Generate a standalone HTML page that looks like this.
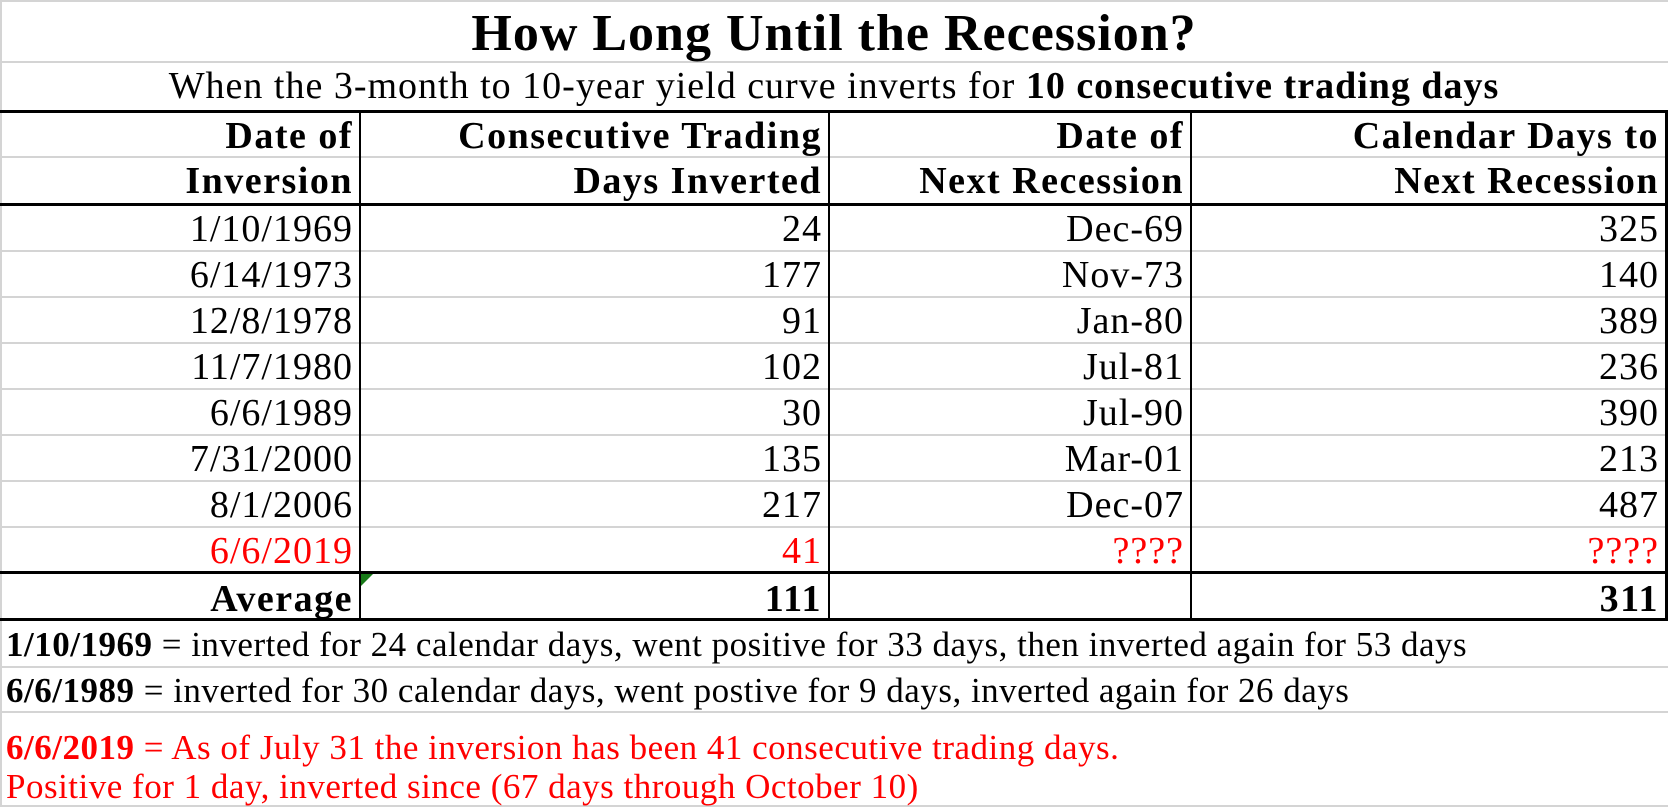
<!DOCTYPE html>
<html><head><meta charset="utf-8"><style>
body{margin:0;width:1668px;height:807px;background:#fff;overflow:hidden;font-family:"Liberation Serif",serif;}
.c{position:absolute;white-space:nowrap;font-size:38px;line-height:1;letter-spacing:1px;}
.h{position:absolute;background:#d4d4d4;height:2px;left:0;width:1668px;}
.k{position:absolute;background:#000;}
b{font-weight:bold;}
.red{color:#f00;}
.n{font-size:35px;letter-spacing:0.5px;}
</style></head><body>
<div>
<div class="h" style="top:0"></div>
<div class="h" style="top:61px"></div>
<div class="h" style="top:156px"></div>
<div class="h" style="top:666px"></div>
<div class="h" style="top:711px"></div>
<div class="h" style="top:805px"></div>
<div class="h" style="top:250px"></div><div class="h" style="top:296px"></div><div class="h" style="top:342px"></div><div class="h" style="top:388px"></div><div class="h" style="top:434px"></div><div class="h" style="top:480px"></div><div class="h" style="top:526px"></div>
<div style="position:absolute;left:0;top:0;width:2px;height:807px;background:#d4d4d4"></div>
<div class="k" style="left:0;top:110px;width:1668px;height:3px"></div>
<div class="k" style="left:0;top:203px;width:1668px;height:3px"></div>
<div class="k" style="left:0;top:571px;width:1668px;height:3px"></div>
<div class="k" style="left:0;top:618px;width:1668px;height:3px"></div>
<div class="k" style="left:1665px;top:110px;width:3px;height:511px"></div>
<div class="k" style="left:359px;top:110px;width:2px;height:511px"></div>
<div class="k" style="left:828px;top:110px;width:2px;height:511px"></div>
<div class="k" style="left:1190px;top:110px;width:2px;height:511px"></div>
<div style="position:absolute;left:361px;top:574px;width:0;height:0;border-top:12px solid #187a18;border-right:12px solid transparent"></div>

<div class="c" style="left:0;width:1668px;text-align:center;top:8px;font-size:52px;font-weight:bold">How Long Until the Recession?</div>
<div class="c" style="left:0;width:1668px;text-align:center;top:67px">When the 3-month to 10-year yield curve inverts for <b>10 consecutive trading days</b></div>

<div class="c n" style="left:6px;top:627px"><b>1/10/1969</b> = inverted for 24 calendar days, went positive for 33 days, then inverted again for 53 days</div>
<div class="c n" style="left:6px;top:673px"><b>6/6/1989</b> = inverted for 30 calendar days, went postive for 9 days, inverted again for 26 days</div>
<div class="c n red" style="left:6px;top:730px"><b>6/6/2019</b> = As of July 31 the inversion has been 41 consecutive trading days.</div>
<div class="c n red" style="left:6px;top:769px">Positive for 1 day, inverted since (67 days through October 10)</div>
</div>
<script>
const colRight=[353,822,1184,1659];
const headers=[["Date of","Inversion"],["Consecutive Trading","Days Inverted"],["Date of","Next Recession"],["Calendar Days to","Next Recession"]];
const inversionDates=["1/10/1969","6/14/1973","12/8/1978","11/7/1980","6/6/1989","7/31/2000","8/1/2006","6/6/2019"];
const daysInverted=["24","177","91","102","30","135","217","41"];
const recessionDates=["Dec-69","Nov-73","Jan-80","Jul-81","Jul-90","Mar-01","Dec-07","????"];
const daysToRecession=["325","140","389","236","390","213","487","????"];
const averages=["Average","111","","311"];
function cell(txt,col,top,bold,red,name){
  const d=document.createElement('div');
  d.className='c'+(red?' red':'');
  
  
  d.style.right=(1668-colRight[col])+'px';d.style.top=top+'px';
  if(bold){d.style.fontWeight='bold';d.style.letterSpacing='1.5px';}
  d.textContent=txt;document.body.appendChild(d);
}
headers.forEach((h,i)=>{cell(h[0],i,117,true,false,'column-header');cell(h[1],i,162,true,false,'column-header');});
const cols=[inversionDates,daysInverted,recessionDates,daysToRecession];
for(let r=0;r<inversionDates.length;r++){
  const top=210+r*46;const red=r===inversionDates.length-1;
  cols.forEach((c,i)=>cell(c[r],i,top,false,red,'table-cell'));
}
averages.forEach((a,i)=>{if(a)cell(a,i,580,true,false,'average-cell');});
</script>
</body></html>
